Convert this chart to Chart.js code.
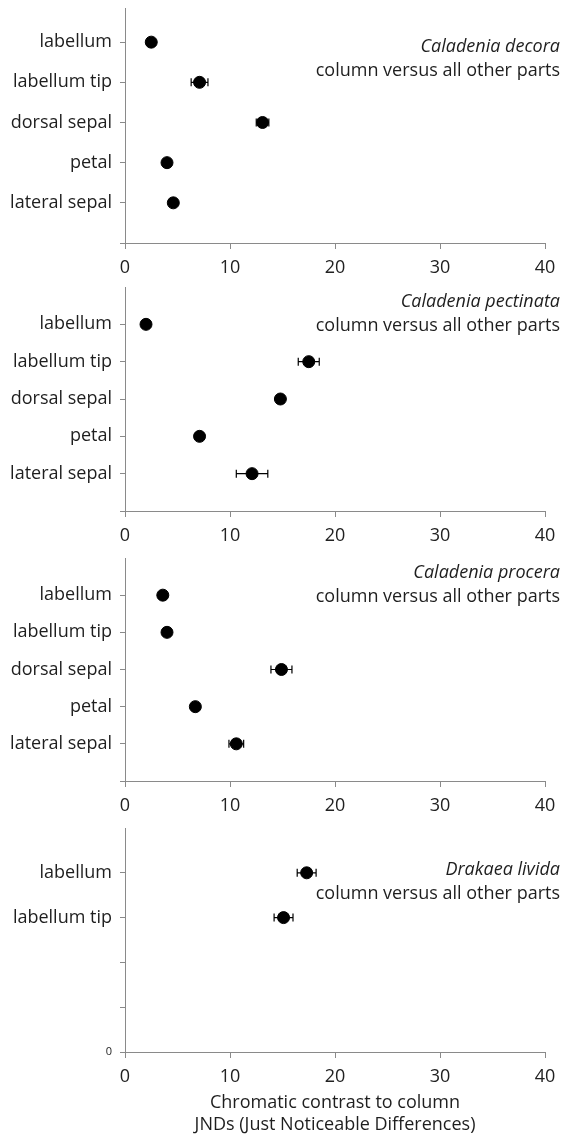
<!DOCTYPE html>
<html>
<head>
<meta charset="utf-8">
<script src="https://cdn.jsdelivr.net/npm/chart.js@4.4.0/dist/chart.umd.min.js"></script>
<style>
  html, body { margin: 0; padding: 0; background: #fff; }
  body { width: 569px; height: 1138px; position: relative; overflow: hidden; }
  canvas { position: absolute; left: 0; }
</style>
</head>
<body>
<canvas id="c1" width="569" height="283" style="top:0px"></canvas>
<canvas id="c2" width="569" height="271" style="top:280px"></canvas>
<canvas id="c3" width="569" height="270" style="top:551px"></canvas>
<canvas id="c4" width="569" height="317" style="top:821px"></canvas>
<script>
// flower parts
const parts = ['labellum', 'labellum tip', 'dorsal sepal', 'petal', 'lateral sepal'];
const partsLivida = ['labellum', 'labellum tip'];

// mean chromatic contrast (JND) and error
const decoraMean = [2.5, 7.1, 13.1, 4.0, 4.6];
const decoraErr = [0, 0.8, 0.6, 0, 0];
const pectinataMean = [2.0, 17.5, 14.8, 7.1, 12.1];
const pectinataErr = [0, 1.0, 0.3, 0.3, 1.5];
const proceraMean = [3.6, 4.0, 14.9, 6.7, 10.6];
const proceraErr = [0.2, 0, 1.0, 0.2, 0.7];
const lividaMean = [17.3, 15.1];
const lividaErr = [0.9, 0.9];

const xTicks = [0, 10, 20, 30, 40];
const xTitle = ['Chromatic contrast to column', 'JNDs (Just Noticeable Differences)'];

const axisGrey = '#8a8a8a';
const textCol = '#1e1e1e';
const FONT = '"Open Sans", "DejaVu Sans", sans-serif';
const FS = 18;

// error bars drawn under the dots
const errorBars = {
  id: 'errorBars',
  beforeDatasetsDraw(chart) {
    const { ctx, scales: { x, y } } = chart;
    ctx.save();
    ctx.strokeStyle = '#000';
    ctx.lineWidth = 1.2;
    chart.data.datasets[0].data.forEach(p => {
      if (!p.err) return;
      const py = y.getPixelForValue(p.y);
      const x0 = x.getPixelForValue(p.x - p.err);
      const x1 = x.getPixelForValue(p.x + p.err);
      ctx.beginPath();
      ctx.moveTo(x0, py); ctx.lineTo(x1, py);
      ctx.moveTo(x0, py - 4); ctx.lineTo(x0, py + 4);
      ctx.moveTo(x1, py - 4); ctx.lineTo(x1, py + 4);
      ctx.stroke();
    });
    ctx.restore();
  }
};

// species name + subtitle, right aligned inside the plot
const speciesLabel = {
  id: 'speciesLabel',
  afterDraw(chart, args, opts) {
    const { ctx, chartArea } = chart;
    ctx.save();
    ctx.fillStyle = textCol;
    ctx.textAlign = 'right';
    ctx.textBaseline = 'alphabetic';
    ctx.font = 'italic ' + FS + 'px ' + FONT;
    ctx.fillText(opts.name, 560, chartArea.top + opts.dy);
    ctx.font = FS + 'px ' + FONT;
    ctx.fillText('column versus all other parts', 560, chartArea.top + opts.dy + 24);
    ctx.restore();
  }
};

function makePanel(id, cats, means, errs, opt) {
  const data = means.map((m, i) => ({ x: m, y: opt.topSlot - i, err: errs[i] }));
  const yVals = [];
  for (let v = 0; v <= opt.topSlot; v++) yVals.push(v);

  return new Chart(document.getElementById(id), {
    type: 'scatter',
    data: {
      datasets: [{
        data: data,
        backgroundColor: '#000',
        borderColor: '#000',
        pointRadius: 6,
        pointHoverRadius: 6
      }]
    },
    options: {
      responsive: false,
      animation: false,
      devicePixelRatio: 1,
      layout: { padding: { top: opt.padTop, right: 24, left: 0, bottom: 0 } },
      plugins: {
        legend: { display: false },
        tooltip: { enabled: false },
        speciesLabel: { name: opt.species, dy: opt.titleDy }
      },
      scales: {
        x: {
          type: 'linear',
          min: 0, max: 40,
          afterBuildTicks: s => { s.ticks = xTicks.map(v => ({ value: v })); },
          afterFit: s => { s.height = opt.xHeight; s.paddingLeft = 0; s.paddingRight = 0; },
          grid: { drawOnChartArea: false, drawTicks: true, tickLength: 6, color: axisGrey },
          border: { color: axisGrey, width: 1 },
          ticks: { color: '#222', padding: 8, font: { family: FONT, size: FS } },
          title: {
            display: !!opt.xTitle,
            text: opt.xTitle || '',
            color: textCol,
            font: { family: FONT, size: FS, lineHeight: 1.22 },
            padding: { top: 0, bottom: 2 }
          }
        },
        y: {
          type: 'linear',
          min: 0, max: opt.yMax,
          afterBuildTicks: s => { s.ticks = yVals.map(v => ({ value: v })); },
          afterFit: s => { s.width = 125; s.paddingTop = 0; s.paddingBottom = 0; },
          grid: { drawOnChartArea: false, drawTicks: true, tickLength: 5, color: axisGrey },
          border: { color: axisGrey, width: 1 },
          ticks: {
            color: textCol,
            padding: 8,
            font: c => (c.tick && c.tick.value === 0) ? { family: FONT, size: 11 } : { family: FONT, size: FS },
            callback: v => {
              if (v === 0) return opt.zeroLabel ? '0' : '';
              const idx = opt.topSlot - v;
              return cats[idx] !== undefined ? cats[idx] : '';
            }
          }
        }
      }
    },
    plugins: [errorBars, speciesLabel]
  });
}

makePanel('c1', parts, decoraMean, decoraErr,
  { species: 'Caladenia decora', topSlot: 5, yMax: 5.85, padTop: 8, xHeight: 40, titleDy: 44 });
makePanel('c2', parts, pectinataMean, pectinataErr,
  { species: 'Caladenia pectinata', topSlot: 5, yMax: 6, padTop: 7, xHeight: 40, titleDy: 20 });
makePanel('c3', parts, proceraMean, proceraErr,
  { species: 'Caladenia procera', topSlot: 5, yMax: 6, padTop: 6, xHeight: 40, titleDy: 20 });
makePanel('c4', partsLivida, lividaMean, lividaErr,
  { species: 'Drakaea livida', topSlot: 4, yMax: 5, padTop: 7, xHeight: 86, titleDy: 47, zeroLabel: true, xTitle: xTitle });
</script>
</body>
</html>
